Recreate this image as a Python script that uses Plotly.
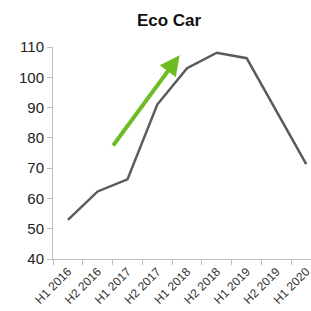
import plotly.graph_objects as go

categories = ["H1 2016", "H2 2016", "H1 2017", "H2 2017", "H1 2018",
              "H2 2018", "H1 2019", "H2 2019", "H1 2020"]
values = [52.9, 62.3, 66.3, 91, 103, 108.1, 106.3, 88.8, 71.3]
y_ticks = [40, 50, 60, 70, 80, 90, 100, 110]

n = len(categories)
fig = go.Figure()
fig.add_trace(go.Scatter(x=list(range(n)), y=values, mode="lines",
                         line=dict(color="#5a5a5a", width=2.5)))

fig.add_annotation(x=3.75, y=107.3, ax=1.48, ay=77, xref="x", yref="y",
                   axref="x", ayref="y", showarrow=True, arrowhead=2,
                   arrowsize=1.0, arrowwidth=4, arrowcolor="#6cbd22", text="")

fig.update_layout(
    width=311, height=311,
    margin=dict(l=53, r=0, t=47, b=52, autoexpand=False),
    plot_bgcolor="white", paper_bgcolor="white",
    showlegend=False,
    title=dict(text="<b>Eco Car</b>", x=169 / 311, xref="container", xanchor="center",
               y=1 - 20 / 311, yref="container", yanchor="middle",
               font=dict(family="Liberation Sans, Arial", size=17, color="#111")),
    font=dict(family="Liberation Sans, Arial", color="#222"),
)
fig.update_xaxes(
    tickmode="array", tickvals=list(range(n)), ticktext=categories,
    range=[-0.5, 8.16], tickangle=-45, tickfont=dict(size=12, color="#333"),
    automargin=False, ticklabeloverflow="allow",
    showgrid=False, zeroline=False, showline=True, linecolor="#bfbfbf", linewidth=1,
    ticks="",
    minor=dict(tickmode="array", tickvals=[i - 0.5 for i in range(n + 1)],
               ticks="outside", ticklen=5, tickcolor="#bfbfbf", showgrid=False),
)
fig.update_yaxes(
    range=[40, 110], tickvals=y_ticks, tickfont=dict(size=15), automargin=False,
    showgrid=False, zeroline=False, showline=True, linecolor="#bfbfbf", linewidth=1,
    ticks="outside", ticklen=5, tickcolor="#bfbfbf",
)

fig.write_html("out.html", config={"displayModeBar": False},
               post_script="document.body.style.margin='0';document.body.style.overflow='hidden';")
